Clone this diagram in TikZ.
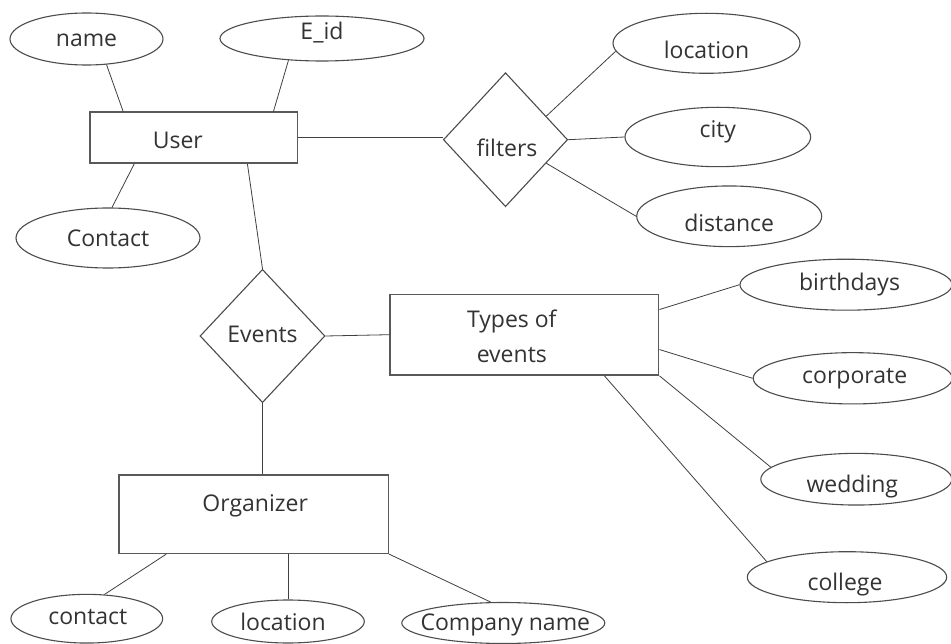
\documentclass[tikz,border=0pt]{standalone}
\usepackage{fontspec}
\setmainfont{Open Sans}
\usetikzlibrary{shapes.geometric}
\begin{document}
\begin{tikzpicture}[x=1pt,y=-1pt,
  attr/.style={ellipse, draw=black!70, line width=1.1pt, inner sep=0pt},
  ent/.style={rectangle, draw=black!65, line width=1.6pt, inner sep=0pt},
  rel/.style={diamond, draw=black!70, line width=1.1pt, inner sep=0pt},
  lbl/.style={font=\fontsize{23}{35}\selectfont, text=black!80, align=center, inner sep=0pt},
  conn/.style={draw=black!75, line width=0.8pt}]
\path[use as bounding box, fill=white] (0,0) rectangle (951,644);

% entities
\node[ent, minimum width=207.7pt, minimum height=51pt,
  label={[lbl, xshift=-16pt, yshift=-2.5pt]center:User}] (user) at (193.8,137.8) {};
\node[ent, minimum width=268.7pt, minimum height=80.7pt,
  label={[lbl, xshift=-12.5pt, yshift=-1.5pt]center:{Types of\\events}}] (types) at (524.3,334.7) {};
\node[ent, minimum width=269.3pt, minimum height=78.3pt,
  label={[lbl, xshift=1.5pt, yshift=8pt]center:Organizer}] (org) at (253.7,514.2) {};

% relationships
\node[rel, minimum width=124.3pt, minimum height=134pt,
  label={[lbl, xshift=1.5pt, yshift=-8pt]center:filters}] (filters) at (505.5,139.7) {};
\node[rel, minimum width=125pt, minimum height=133.3pt,
  label={[lbl, yshift=2pt]center:Events}] (events) at (262.5,336) {};

% attributes
\node[attr, minimum width=153pt, minimum height=52pt,
  label={[lbl, yshift=-1.5pt]center:name}] (name) at (86.5,39) {};
\node[attr, minimum width=204pt, minimum height=45pt,
  label={[lbl, yshift=6pt]center:E\_id}] (eid) at (322,38.5) {};
\node[attr, minimum width=184pt, minimum height=60pt,
  label={[lbl]center:Contact}] (contact) at (108,238) {};
\node[attr, minimum width=187pt, minimum height=60pt,
  label={[lbl, yshift=-7pt]center:location}] (location) at (706.5,43.3) {};
\node[attr, minimum width=185.7pt, minimum height=59.4pt,
  label={[lbl, yshift=5.5pt]center:city}] (city) at (717.8,137) {};
\node[attr, minimum width=185pt, minimum height=60.7pt,
  label={[lbl, yshift=-7pt]center:distance}] (distance) at (729.2,216.3) {};
\node[attr, minimum width=212pt, minimum height=51pt,
  label={[lbl, xshift=3.5pt]center:birthdays}] (birthdays) at (846,284.7) {};
\node[attr, minimum width=199pt, minimum height=51.3pt,
  label={[lbl, xshift=2pt]center:corporate}] (corporate) at (852.7,378.3) {};
\node[attr, minimum width=191pt, minimum height=51.7pt,
  label={[lbl, xshift=-4pt, yshift=-7.5pt]center:wedding}] (wedding) at (856.3,479.2) {};
\node[attr, minimum width=199.4pt, minimum height=51pt,
  label={[lbl, xshift=-2pt, yshift=-7pt]center:college}] (college) at (847,577.2) {};
\node[attr, minimum width=151.7pt, minimum height=48.7pt,
  label={[lbl, xshift=1pt, yshift=2pt]center:contact}] (contact2) at (86.8,618.7) {};
\node[attr, minimum width=152.6pt, minimum height=43pt,
  label={[lbl, xshift=-5pt]center:location}] (location2) at (288,621.5) {};
\node[attr, minimum width=203pt, minimum height=41pt,
  label={[lbl, xshift=2pt, yshift=-1.5pt]center:Company name}] (company) at (503.3,623) {};

% connectors
\draw[conn] (name.-52) -- ([xshift=34pt]user.north west);
\draw[conn] (eid.-147) -- ([xshift=-25pt]user.north east);
\draw[conn] ([xshift=4pt]contact.north) -- ([xshift=45pt]user.south west);
\draw[conn] ([xshift=-51pt]user.south east) -- (events.north);
\draw[conn] (user.east) -- (user.east -| filters.west);
\draw[conn] (filters.30) -- (location.185);
\draw[conn] (filters.east) -- (city.west);
\draw[conn] (filters.-30) -- (distance.180);
\draw[conn] (events.east) -- (types.west);
\draw[conn] (events.south) -- (events.south |- org.north);
\draw[conn] ([xshift=48pt]org.south west) -- (contact2.54);
\draw[conn] (location2.north |- org.south) -- (location2.north);
\draw[conn] (org.south east) -- (company.121);
\draw[conn] ([yshift=-16pt]types.north east) -- (birthdays.west);
\draw[conn] ([yshift=-56pt]types.north east) -- (corporate.west);
\draw[conn] (types.south east) -- (wedding.172);
\draw[conn] ([xshift=-55pt]types.south east) -- (college.169);
\end{tikzpicture}
\end{document}
